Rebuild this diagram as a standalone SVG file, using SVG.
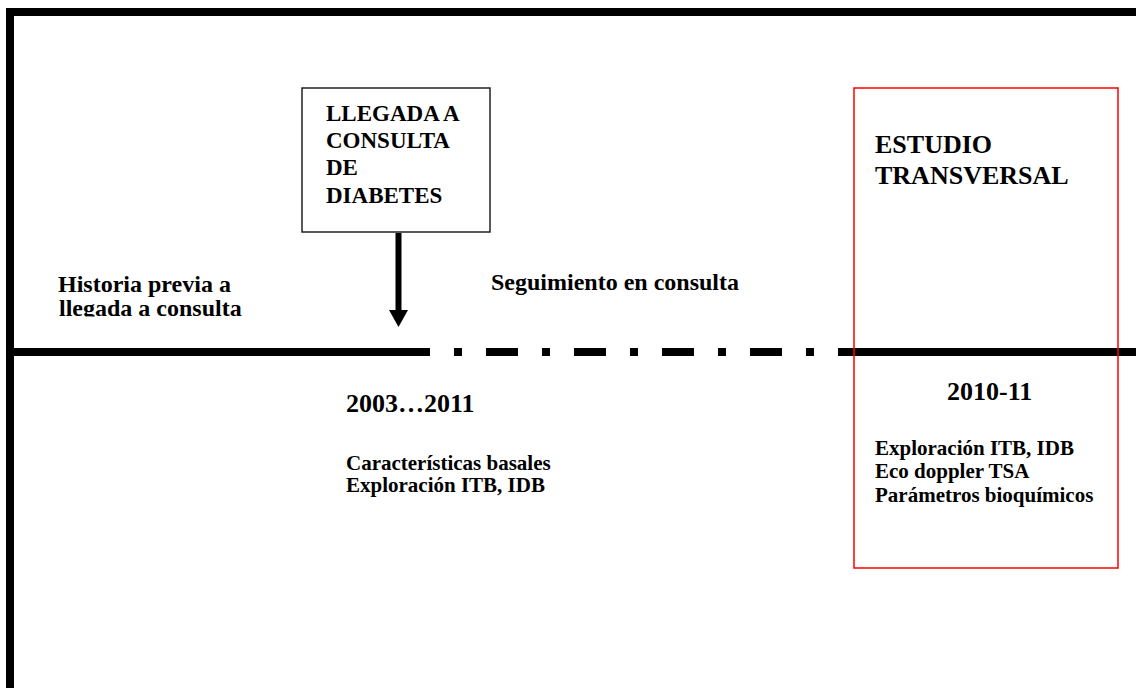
<svg xmlns="http://www.w3.org/2000/svg" width="1136" height="688" viewBox="0 0 1136 688">
<style>
text{font-family:"Liberation Serif","Times New Roman",serif;font-weight:bold;fill:#000}
.big{font-size:26px}
.mid{font-size:24px}
.box{font-size:23px}
.sm{font-size:21px}
</style>
<defs>
<clipPath id="clipHist"><rect x="40" y="260" width="260" height="56.5"/></clipPath>
</defs>
<rect width="1136" height="688" fill="#fff"/>
<g id="frame">
<rect x="6" y="8" width="1130" height="8" fill="#000"/>
<rect x="6" y="8" width="8" height="680" fill="#000"/>
</g>
<g id="connectors">
<line x1="10" y1="352" x2="398" y2="352" stroke="#000" stroke-width="8"/>
<line x1="398" y1="352" x2="838" y2="352" stroke="#000" stroke-width="8" stroke-dasharray="32 24 8 24"/>
<line x1="838" y1="352" x2="1136" y2="352" stroke="#000" stroke-width="8"/>
<line x1="398.5" y1="233" x2="398.5" y2="311" stroke="#000" stroke-width="6"/>
<polygon points="389,310 408,310 398.5,327" fill="#000"/>
</g>
<g id="llegada">
<rect x="302" y="88" width="188" height="144" fill="none" stroke="#222" stroke-width="1.5"/>
<text class="box" x="326" y="121">LLEGADA A</text>
<text class="box" x="326" y="148">CONSULTA</text>
<text class="box" x="326" y="175">DE</text>
<text class="box" x="326" y="203">DIABETES</text>
</g>
<g id="estudio">
<rect x="854" y="88" width="264" height="480" fill="none" stroke="#f00" stroke-width="1.5"/>
<text class="big" x="875" y="153">ESTUDIO</text>
<text class="big" x="875" y="184">TRANSVERSAL</text>
<text class="big" x="947" y="400">2010-11</text>
<text class="sm" x="875" y="455">Exploración ITB, IDB</text>
<text class="sm" x="875" y="478">Eco doppler TSA</text>
<text class="sm" x="875" y="502">Parámetros bioquímicos</text>
</g>
<g id="historia" clip-path="url(#clipHist)">
<text class="mid" x="58" y="292">Historia previa a</text>
<text class="mid" x="59" y="316">llegada a consulta</text>
</g>
<g id="seguimiento">
<text class="mid" x="491" y="290">Seguimiento en consulta</text>
</g>
<g id="basal">
<text class="big" x="346" y="412">2003…2011</text>
<text class="sm" x="346" y="470">Características basales</text>
<text class="sm" x="346" y="492">Exploración ITB, IDB</text>
</g>
</svg>
